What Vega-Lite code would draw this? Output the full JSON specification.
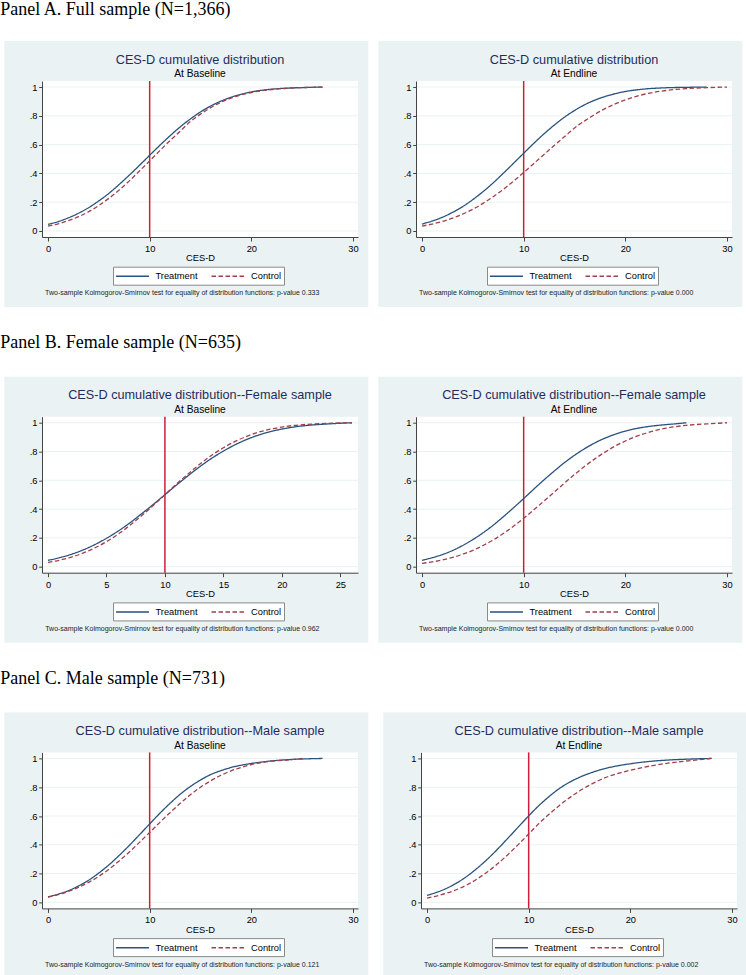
{
  "$schema": "https://vega.github.io/schema/vega-lite/v6.json",
  "padding": 0,
  "background": "white",
  "datasets": {
    "grid": [{"v": 0}, {"v": 0.2}, {"v": 0.4}, {"v": 0.6}, {"v": 0.8}, {"v": 1}],
    "cdf": [
      {"p":"A1","g":"Treatment","x":0,"y":0.046},{"p":"A1","g":"Treatment","x":1,"y":0.065},{"p":"A1","g":"Treatment","x":2,"y":0.091},{"p":"A1","g":"Treatment","x":3,"y":0.123},{"p":"A1","g":"Treatment","x":4,"y":0.162},{"p":"A1","g":"Treatment","x":5,"y":0.209},{"p":"A1","g":"Treatment","x":6,"y":0.262},{"p":"A1","g":"Treatment","x":7,"y":0.323},{"p":"A1","g":"Treatment","x":8,"y":0.388},{"p":"A1","g":"Treatment","x":9,"y":0.456},{"p":"A1","g":"Treatment","x":10,"y":0.526},{"p":"A1","g":"Treatment","x":11,"y":0.595},{"p":"A1","g":"Treatment","x":12,"y":0.661},{"p":"A1","g":"Treatment","x":13,"y":0.723},{"p":"A1","g":"Treatment","x":14,"y":0.778},{"p":"A1","g":"Treatment","x":15,"y":0.827},{"p":"A1","g":"Treatment","x":16,"y":0.868},{"p":"A1","g":"Treatment","x":17,"y":0.902},{"p":"A1","g":"Treatment","x":18,"y":0.929},{"p":"A1","g":"Treatment","x":19,"y":0.950},{"p":"A1","g":"Treatment","x":20,"y":0.966},{"p":"A1","g":"Treatment","x":22,"y":0.985},{"p":"A1","g":"Treatment","x":24,"y":0.994},{"p":"A1","g":"Treatment","x":26,"y":0.998},{"p":"A1","g":"Treatment","x":27,"y":1.0},
      {"p":"A1","g":"Control","x":0,"y":0.034},{"p":"A1","g":"Control","x":1,"y":0.050},{"p":"A1","g":"Control","x":2,"y":0.072},{"p":"A1","g":"Control","x":3,"y":0.099},{"p":"A1","g":"Control","x":4,"y":0.134},{"p":"A1","g":"Control","x":5,"y":0.177},{"p":"A1","g":"Control","x":6,"y":0.227},{"p":"A1","g":"Control","x":7,"y":0.285},{"p":"A1","g":"Control","x":8,"y":0.348},{"p":"A1","g":"Control","x":9,"y":0.417},{"p":"A1","g":"Control","x":10,"y":0.487},{"p":"A1","g":"Control","x":11,"y":0.558},{"p":"A1","g":"Control","x":12,"y":0.628},{"p":"A1","g":"Control","x":13,"y":0.693},{"p":"A1","g":"Control","x":14,"y":0.760},{"p":"A1","g":"Control","x":15,"y":0.812},{"p":"A1","g":"Control","x":16,"y":0.857},{"p":"A1","g":"Control","x":17,"y":0.894},{"p":"A1","g":"Control","x":18,"y":0.923},{"p":"A1","g":"Control","x":19,"y":0.946},{"p":"A1","g":"Control","x":20,"y":0.962},{"p":"A1","g":"Control","x":22,"y":0.983},{"p":"A1","g":"Control","x":24,"y":0.993},{"p":"A1","g":"Control","x":26,"y":0.998},{"p":"A1","g":"Control","x":27,"y":1.0},
      {"p":"A2","g":"Treatment","x":0,"y":0.048},{"p":"A2","g":"Treatment","x":1,"y":0.069},{"p":"A2","g":"Treatment","x":2,"y":0.095},{"p":"A2","g":"Treatment","x":3,"y":0.129},{"p":"A2","g":"Treatment","x":4,"y":0.169},{"p":"A2","g":"Treatment","x":5,"y":0.218},{"p":"A2","g":"Treatment","x":6,"y":0.273},{"p":"A2","g":"Treatment","x":7,"y":0.334},{"p":"A2","g":"Treatment","x":8,"y":0.401},{"p":"A2","g":"Treatment","x":9,"y":0.470},{"p":"A2","g":"Treatment","x":10,"y":0.540},{"p":"A2","g":"Treatment","x":11,"y":0.609},{"p":"A2","g":"Treatment","x":12,"y":0.675},{"p":"A2","g":"Treatment","x":13,"y":0.735},{"p":"A2","g":"Treatment","x":14,"y":0.790},{"p":"A2","g":"Treatment","x":15,"y":0.837},{"p":"A2","g":"Treatment","x":16,"y":0.877},{"p":"A2","g":"Treatment","x":17,"y":0.909},{"p":"A2","g":"Treatment","x":18,"y":0.934},{"p":"A2","g":"Treatment","x":19,"y":0.954},{"p":"A2","g":"Treatment","x":20,"y":0.969},{"p":"A2","g":"Treatment","x":22,"y":0.987},{"p":"A2","g":"Treatment","x":24,"y":0.995},{"p":"A2","g":"Treatment","x":26,"y":0.998},{"p":"A2","g":"Treatment","x":28,"y":1.0},
      {"p":"A2","g":"Control","x":0,"y":0.034},{"p":"A2","g":"Control","x":1,"y":0.048},{"p":"A2","g":"Control","x":2,"y":0.066},{"p":"A2","g":"Control","x":3,"y":0.089},{"p":"A2","g":"Control","x":4,"y":0.117},{"p":"A2","g":"Control","x":5,"y":0.151},{"p":"A2","g":"Control","x":6,"y":0.192},{"p":"A2","g":"Control","x":7,"y":0.238},{"p":"A2","g":"Control","x":8,"y":0.289},{"p":"A2","g":"Control","x":9,"y":0.346},{"p":"A2","g":"Control","x":10,"y":0.406},{"p":"A2","g":"Control","x":11,"y":0.469},{"p":"A2","g":"Control","x":12,"y":0.531},{"p":"A2","g":"Control","x":13,"y":0.594},{"p":"A2","g":"Control","x":14,"y":0.654},{"p":"A2","g":"Control","x":15,"y":0.715},{"p":"A2","g":"Control","x":16,"y":0.765},{"p":"A2","g":"Control","x":17,"y":0.810},{"p":"A2","g":"Control","x":18,"y":0.850},{"p":"A2","g":"Control","x":19,"y":0.883},{"p":"A2","g":"Control","x":20,"y":0.911},{"p":"A2","g":"Control","x":21,"y":0.934},{"p":"A2","g":"Control","x":22,"y":0.952},{"p":"A2","g":"Control","x":24,"y":0.976},{"p":"A2","g":"Control","x":26,"y":0.989},{"p":"A2","g":"Control","x":28,"y":0.996},{"p":"A2","g":"Control","x":30,"y":1.0},
      {"p":"B1","g":"Treatment","x":0,"y":0.044},{"p":"B1","g":"Treatment","x":1,"y":0.062},{"p":"B1","g":"Treatment","x":2,"y":0.086},{"p":"B1","g":"Treatment","x":3,"y":0.116},{"p":"B1","g":"Treatment","x":4,"y":0.153},{"p":"B1","g":"Treatment","x":5,"y":0.197},{"p":"B1","g":"Treatment","x":6,"y":0.247},{"p":"B1","g":"Treatment","x":7,"y":0.304},{"p":"B1","g":"Treatment","x":8,"y":0.367},{"p":"B1","g":"Treatment","x":9,"y":0.432},{"p":"B1","g":"Treatment","x":10,"y":0.500},{"p":"B1","g":"Treatment","x":11,"y":0.568},{"p":"B1","g":"Treatment","x":12,"y":0.633},{"p":"B1","g":"Treatment","x":13,"y":0.696},{"p":"B1","g":"Treatment","x":14,"y":0.753},{"p":"B1","g":"Treatment","x":15,"y":0.803},{"p":"B1","g":"Treatment","x":16,"y":0.847},{"p":"B1","g":"Treatment","x":17,"y":0.884},{"p":"B1","g":"Treatment","x":18,"y":0.914},{"p":"B1","g":"Treatment","x":19,"y":0.938},{"p":"B1","g":"Treatment","x":20,"y":0.956},{"p":"B1","g":"Treatment","x":21,"y":0.970},{"p":"B1","g":"Treatment","x":22,"y":0.980},{"p":"B1","g":"Treatment","x":24,"y":0.992},{"p":"B1","g":"Treatment","x":26,"y":1.0},
      {"p":"B1","g":"Control","x":0,"y":0.030},{"p":"B1","g":"Control","x":1,"y":0.045},{"p":"B1","g":"Control","x":2,"y":0.066},{"p":"B1","g":"Control","x":3,"y":0.094},{"p":"B1","g":"Control","x":4,"y":0.130},{"p":"B1","g":"Control","x":5,"y":0.174},{"p":"B1","g":"Control","x":6,"y":0.226},{"p":"B1","g":"Control","x":7,"y":0.287},{"p":"B1","g":"Control","x":8,"y":0.354},{"p":"B1","g":"Control","x":9,"y":0.425},{"p":"B1","g":"Control","x":10,"y":0.500},{"p":"B1","g":"Control","x":11,"y":0.575},{"p":"B1","g":"Control","x":12,"y":0.646},{"p":"B1","g":"Control","x":13,"y":0.713},{"p":"B1","g":"Control","x":14,"y":0.774},{"p":"B1","g":"Control","x":15,"y":0.826},{"p":"B1","g":"Control","x":16,"y":0.870},{"p":"B1","g":"Control","x":17,"y":0.906},{"p":"B1","g":"Control","x":18,"y":0.934},{"p":"B1","g":"Control","x":19,"y":0.955},{"p":"B1","g":"Control","x":20,"y":0.970},{"p":"B1","g":"Control","x":21,"y":0.981},{"p":"B1","g":"Control","x":22,"y":0.988},{"p":"B1","g":"Control","x":24,"y":0.996},{"p":"B1","g":"Control","x":26,"y":1.0},
      {"p":"B2","g":"Treatment","x":0,"y":0.044},{"p":"B2","g":"Treatment","x":1,"y":0.062},{"p":"B2","g":"Treatment","x":2,"y":0.084},{"p":"B2","g":"Treatment","x":3,"y":0.112},{"p":"B2","g":"Treatment","x":4,"y":0.147},{"p":"B2","g":"Treatment","x":5,"y":0.188},{"p":"B2","g":"Treatment","x":6,"y":0.235},{"p":"B2","g":"Treatment","x":7,"y":0.288},{"p":"B2","g":"Treatment","x":8,"y":0.347},{"p":"B2","g":"Treatment","x":9,"y":0.409},{"p":"B2","g":"Treatment","x":10,"y":0.473},{"p":"B2","g":"Treatment","x":11,"y":0.539},{"p":"B2","g":"Treatment","x":12,"y":0.603},{"p":"B2","g":"Treatment","x":13,"y":0.664},{"p":"B2","g":"Treatment","x":14,"y":0.722},{"p":"B2","g":"Treatment","x":15,"y":0.774},{"p":"B2","g":"Treatment","x":16,"y":0.820},{"p":"B2","g":"Treatment","x":17,"y":0.860},{"p":"B2","g":"Treatment","x":18,"y":0.893},{"p":"B2","g":"Treatment","x":19,"y":0.920},{"p":"B2","g":"Treatment","x":20,"y":0.942},{"p":"B2","g":"Treatment","x":21,"y":0.959},{"p":"B2","g":"Treatment","x":22,"y":0.971},{"p":"B2","g":"Treatment","x":24,"y":0.987},{"p":"B2","g":"Treatment","x":25,"y":0.993},{"p":"B2","g":"Treatment","x":26,"y":1.0},
      {"p":"B2","g":"Control","x":0,"y":0.023},{"p":"B2","g":"Control","x":1,"y":0.033},{"p":"B2","g":"Control","x":2,"y":0.047},{"p":"B2","g":"Control","x":3,"y":0.064},{"p":"B2","g":"Control","x":4,"y":0.086},{"p":"B2","g":"Control","x":5,"y":0.113},{"p":"B2","g":"Control","x":6,"y":0.147},{"p":"B2","g":"Control","x":7,"y":0.185},{"p":"B2","g":"Control","x":8,"y":0.230},{"p":"B2","g":"Control","x":9,"y":0.281},{"p":"B2","g":"Control","x":10,"y":0.336},{"p":"B2","g":"Control","x":11,"y":0.395},{"p":"B2","g":"Control","x":12,"y":0.456},{"p":"B2","g":"Control","x":13,"y":0.518},{"p":"B2","g":"Control","x":14,"y":0.580},{"p":"B2","g":"Control","x":15,"y":0.640},{"p":"B2","g":"Control","x":16,"y":0.697},{"p":"B2","g":"Control","x":17,"y":0.749},{"p":"B2","g":"Control","x":18,"y":0.796},{"p":"B2","g":"Control","x":19,"y":0.838},{"p":"B2","g":"Control","x":20,"y":0.873},{"p":"B2","g":"Control","x":21,"y":0.903},{"p":"B2","g":"Control","x":22,"y":0.927},{"p":"B2","g":"Control","x":23,"y":0.947},{"p":"B2","g":"Control","x":24,"y":0.962},{"p":"B2","g":"Control","x":26,"y":0.982},{"p":"B2","g":"Control","x":28,"y":0.992},{"p":"B2","g":"Control","x":30,"y":1.0},
      {"p":"C1","g":"Treatment","x":0,"y":0.038},{"p":"C1","g":"Treatment","x":1,"y":0.057},{"p":"C1","g":"Treatment","x":2,"y":0.081},{"p":"C1","g":"Treatment","x":3,"y":0.114},{"p":"C1","g":"Treatment","x":4,"y":0.154},{"p":"C1","g":"Treatment","x":5,"y":0.204},{"p":"C1","g":"Treatment","x":6,"y":0.261},{"p":"C1","g":"Treatment","x":7,"y":0.326},{"p":"C1","g":"Treatment","x":8,"y":0.396},{"p":"C1","g":"Treatment","x":9,"y":0.470},{"p":"C1","g":"Treatment","x":10,"y":0.545},{"p":"C1","g":"Treatment","x":11,"y":0.619},{"p":"C1","g":"Treatment","x":12,"y":0.688},{"p":"C1","g":"Treatment","x":13,"y":0.751},{"p":"C1","g":"Treatment","x":14,"y":0.805},{"p":"C1","g":"Treatment","x":15,"y":0.850},{"p":"C1","g":"Treatment","x":16,"y":0.888},{"p":"C1","g":"Treatment","x":17,"y":0.915},{"p":"C1","g":"Treatment","x":18,"y":0.937},{"p":"C1","g":"Treatment","x":19,"y":0.953},{"p":"C1","g":"Treatment","x":20,"y":0.965},{"p":"C1","g":"Treatment","x":22,"y":0.983},{"p":"C1","g":"Treatment","x":24,"y":0.993},{"p":"C1","g":"Treatment","x":27,"y":1.0},
      {"p":"C1","g":"Control","x":0,"y":0.037},{"p":"C1","g":"Control","x":1,"y":0.054},{"p":"C1","g":"Control","x":2,"y":0.076},{"p":"C1","g":"Control","x":3,"y":0.104},{"p":"C1","g":"Control","x":4,"y":0.139},{"p":"C1","g":"Control","x":5,"y":0.181},{"p":"C1","g":"Control","x":6,"y":0.231},{"p":"C1","g":"Control","x":7,"y":0.288},{"p":"C1","g":"Control","x":8,"y":0.350},{"p":"C1","g":"Control","x":9,"y":0.417},{"p":"C1","g":"Control","x":10,"y":0.486},{"p":"C1","g":"Control","x":11,"y":0.556},{"p":"C1","g":"Control","x":12,"y":0.623},{"p":"C1","g":"Control","x":13,"y":0.688},{"p":"C1","g":"Control","x":14,"y":0.747},{"p":"C1","g":"Control","x":15,"y":0.800},{"p":"C1","g":"Control","x":16,"y":0.845},{"p":"C1","g":"Control","x":17,"y":0.883},{"p":"C1","g":"Control","x":18,"y":0.914},{"p":"C1","g":"Control","x":19,"y":0.938},{"p":"C1","g":"Control","x":20,"y":0.957},{"p":"C1","g":"Control","x":22,"y":0.981},{"p":"C1","g":"Control","x":24,"y":0.992},{"p":"C1","g":"Control","x":25,"y":1.0},
      {"p":"C2","g":"Treatment","x":0,"y":0.048},{"p":"C2","g":"Treatment","x":1,"y":0.071},{"p":"C2","g":"Treatment","x":2,"y":0.100},{"p":"C2","g":"Treatment","x":3,"y":0.138},{"p":"C2","g":"Treatment","x":4,"y":0.185},{"p":"C2","g":"Treatment","x":5,"y":0.241},{"p":"C2","g":"Treatment","x":6,"y":0.304},{"p":"C2","g":"Treatment","x":7,"y":0.374},{"p":"C2","g":"Treatment","x":8,"y":0.449},{"p":"C2","g":"Treatment","x":9,"y":0.525},{"p":"C2","g":"Treatment","x":10,"y":0.601},{"p":"C2","g":"Treatment","x":11,"y":0.672},{"p":"C2","g":"Treatment","x":12,"y":0.735},{"p":"C2","g":"Treatment","x":13,"y":0.790},{"p":"C2","g":"Treatment","x":14,"y":0.834},{"p":"C2","g":"Treatment","x":15,"y":0.869},{"p":"C2","g":"Treatment","x":16,"y":0.897},{"p":"C2","g":"Treatment","x":17,"y":0.920},{"p":"C2","g":"Treatment","x":18,"y":0.938},{"p":"C2","g":"Treatment","x":19,"y":0.952},{"p":"C2","g":"Treatment","x":20,"y":0.963},{"p":"C2","g":"Treatment","x":22,"y":0.980},{"p":"C2","g":"Treatment","x":24,"y":0.990},{"p":"C2","g":"Treatment","x":26,"y":0.996},{"p":"C2","g":"Treatment","x":28,"y":1.0},
      {"p":"C2","g":"Control","x":0,"y":0.030},{"p":"C2","g":"Control","x":1,"y":0.045},{"p":"C2","g":"Control","x":2,"y":0.065},{"p":"C2","g":"Control","x":3,"y":0.091},{"p":"C2","g":"Control","x":4,"y":0.124},{"p":"C2","g":"Control","x":5,"y":0.166},{"p":"C2","g":"Control","x":6,"y":0.215},{"p":"C2","g":"Control","x":7,"y":0.271},{"p":"C2","g":"Control","x":8,"y":0.335},{"p":"C2","g":"Control","x":9,"y":0.403},{"p":"C2","g":"Control","x":10,"y":0.475},{"p":"C2","g":"Control","x":11,"y":0.547},{"p":"C2","g":"Control","x":12,"y":0.612},{"p":"C2","g":"Control","x":13,"y":0.672},{"p":"C2","g":"Control","x":14,"y":0.726},{"p":"C2","g":"Control","x":15,"y":0.774},{"p":"C2","g":"Control","x":16,"y":0.815},{"p":"C2","g":"Control","x":17,"y":0.850},{"p":"C2","g":"Control","x":18,"y":0.879},{"p":"C2","g":"Control","x":19,"y":0.900},{"p":"C2","g":"Control","x":20,"y":0.918},{"p":"C2","g":"Control","x":22,"y":0.948},{"p":"C2","g":"Control","x":24,"y":0.970},{"p":"C2","g":"Control","x":26,"y":0.986},{"p":"C2","g":"Control","x":28,"y":1.0}
    ]
  },
  "vconcat": [
    {
      "title": {"text": "Panel A. Full sample (N=1,366)", "font": "Liberation Serif", "fontSize": 18, "color": "black", "fontWeight": "normal", "anchor": "start", "frame": "bounds", "offset": 22, "dx": -4},
      "spacing": 9,
      "resolve": {"scale": {"color": "independent", "strokeDash": "independent"}, "legend": {"color": "independent", "strokeDash": "independent"}},
      "hconcat": [
        {
          "width": 316, "height": 156,
          "title": {"text": "CES-D cumulative distribution", "subtitle": "At Baseline"},
          "layer": [
            {"data": {"values": [{}]}, "mark": {"type": "rect", "color": "#EAF2F3", "clip": false},
             "encoding": {"x": {"datum": -4.3, "type": "quantitative", "scale": {"domain": [-0.59, 30.49], "nice": false, "zero": false}, "axis": {"values": [0, 10, 20, 30], "title": "CES-D", "zindex": 1}}, "x2": {"datum": 31.5},
                          "y": {"datum": 1.32, "type": "quantitative", "scale": {"domain": [-0.042, 1.042], "nice": false, "zero": false}, "axis": {"values": [0, 0.2, 0.4, 0.6, 0.8, 1], "title": null, "zindex": 1, "labelExpr": "datum.value == 0 ? '0' : datum.value == 1 ? '1' : replace(format(datum.value, '.1f'), '0.', '.')"}}, "y2": {"datum": -0.528}}},
            {"data": {"values": [{}]}, "mark": {"type": "rect", "color": "white"},
             "encoding": {"x": {"datum": -0.59, "type": "quantitative", "scale": {"domain": [-0.59, 30.49], "nice": false, "zero": false}, "axis": {"values": [0, 10, 20, 30], "title": "CES-D", "zindex": 1}}, "x2": {"datum": 30.49},
                          "y": {"datum": -0.042, "type": "quantitative", "scale": {"domain": [-0.042, 1.042], "nice": false, "zero": false}, "axis": {"values": [0, 0.2, 0.4, 0.6, 0.8, 1], "title": null, "zindex": 1, "labelExpr": "datum.value == 0 ? '0' : datum.value == 1 ? '1' : replace(format(datum.value, '.1f'), '0.', '.')"}}, "y2": {"datum": 1.042}}},
            {"data": {"name": "grid"}, "mark": {"type": "rule", "color": "#EAF2F3", "strokeWidth": 1},
             "encoding": {"y": {"field": "v", "type": "quantitative", "scale": {"domain": [-0.042, 1.042], "nice": false, "zero": false}, "axis": {"values": [0, 0.2, 0.4, 0.6, 0.8, 1], "title": null, "zindex": 1, "labelExpr": "datum.value == 0 ? '0' : datum.value == 1 ? '1' : replace(format(datum.value, '.1f'), '0.', '.')"}}}},
            {"data": {"values": [{}]}, "mark": {"type": "rule", "color": "#CC1F3A", "strokeWidth": 1.5},
             "encoding": {"x": {"datum": 10, "type": "quantitative", "scale": {"domain": [-0.59, 30.49], "nice": false, "zero": false}, "axis": {"values": [0, 10, 20, 30], "title": "CES-D", "zindex": 1}}}},
            {"data": {"name": "cdf"}, "transform": [{"filter": "datum.p == 'A1'"}],
             "mark": {"type": "line", "interpolate": "monotone", "strokeWidth": 1.3},
             "encoding": {
               "x": {"field": "x", "type": "quantitative", "scale": {"domain": [-0.59, 30.49], "nice": false, "zero": false}, "axis": {"values": [0, 10, 20, 30], "title": "CES-D", "zindex": 1}},
               "y": {"field": "y", "type": "quantitative", "scale": {"domain": [-0.042, 1.042], "nice": false, "zero": false}, "axis": {"values": [0, 0.2, 0.4, 0.6, 0.8, 1], "title": null, "zindex": 1, "labelExpr": "datum.value == 0 ? '0' : datum.value == 1 ? '1' : replace(format(datum.value, '.1f'), '0.', '.')"}},
               "color": {"field": "g", "type": "nominal", "scale": {"domain": ["Treatment", "Control"], "range": ["#29527D", "#A0404A"]}, "legend": {"title": null, "orient": "none", "legendX": 71, "legendY": 185.7, "direction": "horizontal"}},
               "strokeDash": {"field": "g", "type": "nominal", "scale": {"domain": ["Treatment", "Control"], "range": [[1, 0], [4.5, 2.5]]}, "legend": {"title": null, "orient": "none", "legendX": 71, "legendY": 185.7, "direction": "horizontal"}}
             }},
            {"data": {"values": [{"note": "Two-sample Kolmogorov-Smirnov test for equality of distribution functions: p-value 0.333"}]},
             "mark": {"type": "text", "fontSize": 7, "font": "Liberation Sans", "color": "#222", "align": "center", "baseline": "middle", "clip": false},
             "encoding": {"x": {"datum": 13.2, "type": "quantitative", "scale": {"domain": [-0.59, 30.49], "nice": false, "zero": false}, "axis": {"values": [0, 10, 20, 30], "title": "CES-D", "zindex": 1}},
                          "y": {"datum": -0.432, "type": "quantitative", "scale": {"domain": [-0.042, 1.042], "nice": false, "zero": false}, "axis": {"values": [0, 0.2, 0.4, 0.6, 0.8, 1], "title": null, "zindex": 1, "labelExpr": "datum.value == 0 ? '0' : datum.value == 1 ? '1' : replace(format(datum.value, '.1f'), '0.', '.')"}},
                          "text": {"field": "note"}}}
          ]
        },
        {
          "width": 316, "height": 156,
          "title": {"text": "CES-D cumulative distribution", "subtitle": "At Endline"},
          "layer": [
            {"data": {"values": [{}]}, "mark": {"type": "rect", "color": "#EAF2F3", "clip": false},
             "encoding": {"x": {"datum": -4.3, "type": "quantitative", "scale": {"domain": [-0.59, 30.49], "nice": false, "zero": false}, "axis": {"values": [0, 10, 20, 30], "title": "CES-D", "zindex": 1}}, "x2": {"datum": 31.5},
                          "y": {"datum": 1.32, "type": "quantitative", "scale": {"domain": [-0.042, 1.042], "nice": false, "zero": false}, "axis": {"values": [0, 0.2, 0.4, 0.6, 0.8, 1], "title": null, "zindex": 1, "labelExpr": "datum.value == 0 ? '0' : datum.value == 1 ? '1' : replace(format(datum.value, '.1f'), '0.', '.')"}}, "y2": {"datum": -0.528}}},
            {"data": {"values": [{}]}, "mark": {"type": "rect", "color": "white"},
             "encoding": {"x": {"datum": -0.59, "type": "quantitative", "scale": {"domain": [-0.59, 30.49], "nice": false, "zero": false}, "axis": {"values": [0, 10, 20, 30], "title": "CES-D", "zindex": 1}}, "x2": {"datum": 30.49},
                          "y": {"datum": -0.042, "type": "quantitative", "scale": {"domain": [-0.042, 1.042], "nice": false, "zero": false}, "axis": {"values": [0, 0.2, 0.4, 0.6, 0.8, 1], "title": null, "zindex": 1, "labelExpr": "datum.value == 0 ? '0' : datum.value == 1 ? '1' : replace(format(datum.value, '.1f'), '0.', '.')"}}, "y2": {"datum": 1.042}}},
            {"data": {"name": "grid"}, "mark": {"type": "rule", "color": "#EAF2F3", "strokeWidth": 1},
             "encoding": {"y": {"field": "v", "type": "quantitative", "scale": {"domain": [-0.042, 1.042], "nice": false, "zero": false}, "axis": {"values": [0, 0.2, 0.4, 0.6, 0.8, 1], "title": null, "zindex": 1, "labelExpr": "datum.value == 0 ? '0' : datum.value == 1 ? '1' : replace(format(datum.value, '.1f'), '0.', '.')"}}}},
            {"data": {"values": [{}]}, "mark": {"type": "rule", "color": "#CC1F3A", "strokeWidth": 1.5},
             "encoding": {"x": {"datum": 10, "type": "quantitative", "scale": {"domain": [-0.59, 30.49], "nice": false, "zero": false}, "axis": {"values": [0, 10, 20, 30], "title": "CES-D", "zindex": 1}}}},
            {"data": {"name": "cdf"}, "transform": [{"filter": "datum.p == 'A2'"}],
             "mark": {"type": "line", "interpolate": "monotone", "strokeWidth": 1.3},
             "encoding": {
               "x": {"field": "x", "type": "quantitative", "scale": {"domain": [-0.59, 30.49], "nice": false, "zero": false}, "axis": {"values": [0, 10, 20, 30], "title": "CES-D", "zindex": 1}},
               "y": {"field": "y", "type": "quantitative", "scale": {"domain": [-0.042, 1.042], "nice": false, "zero": false}, "axis": {"values": [0, 0.2, 0.4, 0.6, 0.8, 1], "title": null, "zindex": 1, "labelExpr": "datum.value == 0 ? '0' : datum.value == 1 ? '1' : replace(format(datum.value, '.1f'), '0.', '.')"}},
               "color": {"field": "g", "type": "nominal", "scale": {"domain": ["Treatment", "Control"], "range": ["#29527D", "#A0404A"]}, "legend": {"title": null, "orient": "none", "legendX": 71, "legendY": 185.7, "direction": "horizontal"}},
               "strokeDash": {"field": "g", "type": "nominal", "scale": {"domain": ["Treatment", "Control"], "range": [[1, 0], [4.5, 2.5]]}, "legend": {"title": null, "orient": "none", "legendX": 71, "legendY": 185.7, "direction": "horizontal"}}
             }},
            {"data": {"values": [{"note": "Two-sample Kolmogorov-Smirnov test for equality of distribution functions: p-value 0.000"}]},
             "mark": {"type": "text", "fontSize": 7, "font": "Liberation Sans", "color": "#222", "align": "center", "baseline": "middle", "clip": false},
             "encoding": {"x": {"datum": 13.2, "type": "quantitative", "scale": {"domain": [-0.59, 30.49], "nice": false, "zero": false}, "axis": {"values": [0, 10, 20, 30], "title": "CES-D", "zindex": 1}},
                          "y": {"datum": -0.432, "type": "quantitative", "scale": {"domain": [-0.042, 1.042], "nice": false, "zero": false}, "axis": {"values": [0, 0.2, 0.4, 0.6, 0.8, 1], "title": null, "zindex": 1, "labelExpr": "datum.value == 0 ? '0' : datum.value == 1 ? '1' : replace(format(datum.value, '.1f'), '0.', '.')"}},
                          "text": {"field": "note"}}}
          ]
        }
      ]
    },
    {
      "title": {"text": "Panel B. Female sample (N=635)", "font": "Liberation Serif", "fontSize": 18, "color": "black", "fontWeight": "normal", "anchor": "start", "frame": "bounds", "offset": 24.3, "dx": -4},
      "spacing": 9,
      "resolve": {"scale": {"color": "independent", "strokeDash": "independent"}, "legend": {"color": "independent", "strokeDash": "independent"}},
      "hconcat": [
        {
          "width": 316, "height": 156,
          "title": {"text": "CES-D cumulative distribution--Female sample", "subtitle": "At Baseline"},
          "layer": [
            {"data": {"values": [{}]}, "mark": {"type": "rect", "color": "#EAF2F3", "clip": false},
             "encoding": {"x": {"datum": -3.735, "type": "quantitative", "scale": {"domain": [-0.51, 26.51], "nice": false, "zero": false}, "axis": {"values": [0, 5, 10, 15, 20, 25], "title": "CES-D", "zindex": 1}}, "x2": {"datum": 27.39},
                          "y": {"datum": 1.32, "type": "quantitative", "scale": {"domain": [-0.042, 1.042], "nice": false, "zero": false}, "axis": {"values": [0, 0.2, 0.4, 0.6, 0.8, 1], "title": null, "zindex": 1, "labelExpr": "datum.value == 0 ? '0' : datum.value == 1 ? '1' : replace(format(datum.value, '.1f'), '0.', '.')"}}, "y2": {"datum": -0.528}}},
            {"data": {"values": [{}]}, "mark": {"type": "rect", "color": "white"},
             "encoding": {"x": {"datum": -0.51, "type": "quantitative", "scale": {"domain": [-0.51, 26.51], "nice": false, "zero": false}, "axis": {"values": [0, 5, 10, 15, 20, 25], "title": "CES-D", "zindex": 1}}, "x2": {"datum": 26.51},
                          "y": {"datum": -0.042, "type": "quantitative", "scale": {"domain": [-0.042, 1.042], "nice": false, "zero": false}, "axis": {"values": [0, 0.2, 0.4, 0.6, 0.8, 1], "title": null, "zindex": 1, "labelExpr": "datum.value == 0 ? '0' : datum.value == 1 ? '1' : replace(format(datum.value, '.1f'), '0.', '.')"}}, "y2": {"datum": 1.042}}},
            {"data": {"name": "grid"}, "mark": {"type": "rule", "color": "#EAF2F3", "strokeWidth": 1},
             "encoding": {"y": {"field": "v", "type": "quantitative", "scale": {"domain": [-0.042, 1.042], "nice": false, "zero": false}, "axis": {"values": [0, 0.2, 0.4, 0.6, 0.8, 1], "title": null, "zindex": 1, "labelExpr": "datum.value == 0 ? '0' : datum.value == 1 ? '1' : replace(format(datum.value, '.1f'), '0.', '.')"}}}},
            {"data": {"values": [{}]}, "mark": {"type": "rule", "color": "#CC1F3A", "strokeWidth": 1.5},
             "encoding": {"x": {"datum": 10, "type": "quantitative", "scale": {"domain": [-0.51, 26.51], "nice": false, "zero": false}, "axis": {"values": [0, 5, 10, 15, 20, 25], "title": "CES-D", "zindex": 1}}}},
            {"data": {"name": "cdf"}, "transform": [{"filter": "datum.p == 'B1'"}],
             "mark": {"type": "line", "interpolate": "monotone", "strokeWidth": 1.3},
             "encoding": {
               "x": {"field": "x", "type": "quantitative", "scale": {"domain": [-0.51, 26.51], "nice": false, "zero": false}, "axis": {"values": [0, 5, 10, 15, 20, 25], "title": "CES-D", "zindex": 1}},
               "y": {"field": "y", "type": "quantitative", "scale": {"domain": [-0.042, 1.042], "nice": false, "zero": false}, "axis": {"values": [0, 0.2, 0.4, 0.6, 0.8, 1], "title": null, "zindex": 1, "labelExpr": "datum.value == 0 ? '0' : datum.value == 1 ? '1' : replace(format(datum.value, '.1f'), '0.', '.')"}},
               "color": {"field": "g", "type": "nominal", "scale": {"domain": ["Treatment", "Control"], "range": ["#29527D", "#A0404A"]}, "legend": {"title": null, "orient": "none", "legendX": 71, "legendY": 185.7, "direction": "horizontal"}},
               "strokeDash": {"field": "g", "type": "nominal", "scale": {"domain": ["Treatment", "Control"], "range": [[1, 0], [4.5, 2.5]]}, "legend": {"title": null, "orient": "none", "legendX": 71, "legendY": 185.7, "direction": "horizontal"}}
             }},
            {"data": {"values": [{"note": "Two-sample Kolmogorov-Smirnov test for equality of distribution functions: p-value 0.962"}]},
             "mark": {"type": "text", "fontSize": 7, "font": "Liberation Sans", "color": "#222", "align": "center", "baseline": "middle", "clip": false},
             "encoding": {"x": {"datum": 11.49, "type": "quantitative", "scale": {"domain": [-0.51, 26.51], "nice": false, "zero": false}, "axis": {"values": [0, 5, 10, 15, 20, 25], "title": "CES-D", "zindex": 1}},
                          "y": {"datum": -0.432, "type": "quantitative", "scale": {"domain": [-0.042, 1.042], "nice": false, "zero": false}, "axis": {"values": [0, 0.2, 0.4, 0.6, 0.8, 1], "title": null, "zindex": 1, "labelExpr": "datum.value == 0 ? '0' : datum.value == 1 ? '1' : replace(format(datum.value, '.1f'), '0.', '.')"}},
                          "text": {"field": "note"}}}
          ]
        },
        {
          "width": 316, "height": 156,
          "title": {"text": "CES-D cumulative distribution--Female sample", "subtitle": "At Endline"},
          "layer": [
            {"data": {"values": [{}]}, "mark": {"type": "rect", "color": "#EAF2F3", "clip": false},
             "encoding": {"x": {"datum": -4.3, "type": "quantitative", "scale": {"domain": [-0.59, 30.49], "nice": false, "zero": false}, "axis": {"values": [0, 10, 20, 30], "title": "CES-D", "zindex": 1}}, "x2": {"datum": 31.5},
                          "y": {"datum": 1.32, "type": "quantitative", "scale": {"domain": [-0.042, 1.042], "nice": false, "zero": false}, "axis": {"values": [0, 0.2, 0.4, 0.6, 0.8, 1], "title": null, "zindex": 1, "labelExpr": "datum.value == 0 ? '0' : datum.value == 1 ? '1' : replace(format(datum.value, '.1f'), '0.', '.')"}}, "y2": {"datum": -0.528}}},
            {"data": {"values": [{}]}, "mark": {"type": "rect", "color": "white"},
             "encoding": {"x": {"datum": -0.59, "type": "quantitative", "scale": {"domain": [-0.59, 30.49], "nice": false, "zero": false}, "axis": {"values": [0, 10, 20, 30], "title": "CES-D", "zindex": 1}}, "x2": {"datum": 30.49},
                          "y": {"datum": -0.042, "type": "quantitative", "scale": {"domain": [-0.042, 1.042], "nice": false, "zero": false}, "axis": {"values": [0, 0.2, 0.4, 0.6, 0.8, 1], "title": null, "zindex": 1, "labelExpr": "datum.value == 0 ? '0' : datum.value == 1 ? '1' : replace(format(datum.value, '.1f'), '0.', '.')"}}, "y2": {"datum": 1.042}}},
            {"data": {"name": "grid"}, "mark": {"type": "rule", "color": "#EAF2F3", "strokeWidth": 1},
             "encoding": {"y": {"field": "v", "type": "quantitative", "scale": {"domain": [-0.042, 1.042], "nice": false, "zero": false}, "axis": {"values": [0, 0.2, 0.4, 0.6, 0.8, 1], "title": null, "zindex": 1, "labelExpr": "datum.value == 0 ? '0' : datum.value == 1 ? '1' : replace(format(datum.value, '.1f'), '0.', '.')"}}}},
            {"data": {"values": [{}]}, "mark": {"type": "rule", "color": "#CC1F3A", "strokeWidth": 1.5},
             "encoding": {"x": {"datum": 10, "type": "quantitative", "scale": {"domain": [-0.59, 30.49], "nice": false, "zero": false}, "axis": {"values": [0, 10, 20, 30], "title": "CES-D", "zindex": 1}}}},
            {"data": {"name": "cdf"}, "transform": [{"filter": "datum.p == 'B2'"}],
             "mark": {"type": "line", "interpolate": "monotone", "strokeWidth": 1.3},
             "encoding": {
               "x": {"field": "x", "type": "quantitative", "scale": {"domain": [-0.59, 30.49], "nice": false, "zero": false}, "axis": {"values": [0, 10, 20, 30], "title": "CES-D", "zindex": 1}},
               "y": {"field": "y", "type": "quantitative", "scale": {"domain": [-0.042, 1.042], "nice": false, "zero": false}, "axis": {"values": [0, 0.2, 0.4, 0.6, 0.8, 1], "title": null, "zindex": 1, "labelExpr": "datum.value == 0 ? '0' : datum.value == 1 ? '1' : replace(format(datum.value, '.1f'), '0.', '.')"}},
               "color": {"field": "g", "type": "nominal", "scale": {"domain": ["Treatment", "Control"], "range": ["#29527D", "#A0404A"]}, "legend": {"title": null, "orient": "none", "legendX": 71, "legendY": 185.7, "direction": "horizontal"}},
               "strokeDash": {"field": "g", "type": "nominal", "scale": {"domain": ["Treatment", "Control"], "range": [[1, 0], [4.5, 2.5]]}, "legend": {"title": null, "orient": "none", "legendX": 71, "legendY": 185.7, "direction": "horizontal"}}
             }},
            {"data": {"values": [{"note": "Two-sample Kolmogorov-Smirnov test for equality of distribution functions: p-value 0.000"}]},
             "mark": {"type": "text", "fontSize": 7, "font": "Liberation Sans", "color": "#222", "align": "center", "baseline": "middle", "clip": false},
             "encoding": {"x": {"datum": 13.2, "type": "quantitative", "scale": {"domain": [-0.59, 30.49], "nice": false, "zero": false}, "axis": {"values": [0, 10, 20, 30], "title": "CES-D", "zindex": 1}},
                          "y": {"datum": -0.432, "type": "quantitative", "scale": {"domain": [-0.042, 1.042], "nice": false, "zero": false}, "axis": {"values": [0, 0.2, 0.4, 0.6, 0.8, 1], "title": null, "zindex": 1, "labelExpr": "datum.value == 0 ? '0' : datum.value == 1 ? '1' : replace(format(datum.value, '.1f'), '0.', '.')"}},
                          "text": {"field": "note"}}}
          ]
        }
      ]
    },
    {
      "title": {"text": "Panel C. Male sample (N=731)", "font": "Liberation Serif", "fontSize": 18, "color": "black", "fontWeight": "normal", "anchor": "start", "frame": "bounds", "offset": 24.3, "dx": -4},
      "spacing": 14,
      "resolve": {"scale": {"color": "independent", "strokeDash": "independent"}, "legend": {"color": "independent", "strokeDash": "independent"}},
      "hconcat": [
        {
          "width": 316, "height": 156,
          "title": {"text": "CES-D cumulative distribution--Male sample", "subtitle": "At Baseline"},
          "layer": [
            {"data": {"values": [{}]}, "mark": {"type": "rect", "color": "#EAF2F3", "clip": false},
             "encoding": {"x": {"datum": -4.3, "type": "quantitative", "scale": {"domain": [-0.59, 30.49], "nice": false, "zero": false}, "axis": {"values": [0, 10, 20, 30], "title": "CES-D", "zindex": 1}}, "x2": {"datum": 31.5},
                          "y": {"datum": 1.32, "type": "quantitative", "scale": {"domain": [-0.042, 1.042], "nice": false, "zero": false}, "axis": {"values": [0, 0.2, 0.4, 0.6, 0.8, 1], "title": null, "zindex": 1, "labelExpr": "datum.value == 0 ? '0' : datum.value == 1 ? '1' : replace(format(datum.value, '.1f'), '0.', '.')"}}, "y2": {"datum": -0.528}}},
            {"data": {"values": [{}]}, "mark": {"type": "rect", "color": "white"},
             "encoding": {"x": {"datum": -0.59, "type": "quantitative", "scale": {"domain": [-0.59, 30.49], "nice": false, "zero": false}, "axis": {"values": [0, 10, 20, 30], "title": "CES-D", "zindex": 1}}, "x2": {"datum": 30.49},
                          "y": {"datum": -0.042, "type": "quantitative", "scale": {"domain": [-0.042, 1.042], "nice": false, "zero": false}, "axis": {"values": [0, 0.2, 0.4, 0.6, 0.8, 1], "title": null, "zindex": 1, "labelExpr": "datum.value == 0 ? '0' : datum.value == 1 ? '1' : replace(format(datum.value, '.1f'), '0.', '.')"}}, "y2": {"datum": 1.042}}},
            {"data": {"name": "grid"}, "mark": {"type": "rule", "color": "#EAF2F3", "strokeWidth": 1},
             "encoding": {"y": {"field": "v", "type": "quantitative", "scale": {"domain": [-0.042, 1.042], "nice": false, "zero": false}, "axis": {"values": [0, 0.2, 0.4, 0.6, 0.8, 1], "title": null, "zindex": 1, "labelExpr": "datum.value == 0 ? '0' : datum.value == 1 ? '1' : replace(format(datum.value, '.1f'), '0.', '.')"}}}},
            {"data": {"values": [{}]}, "mark": {"type": "rule", "color": "#CC1F3A", "strokeWidth": 1.5},
             "encoding": {"x": {"datum": 10, "type": "quantitative", "scale": {"domain": [-0.59, 30.49], "nice": false, "zero": false}, "axis": {"values": [0, 10, 20, 30], "title": "CES-D", "zindex": 1}}}},
            {"data": {"name": "cdf"}, "transform": [{"filter": "datum.p == 'C1'"}],
             "mark": {"type": "line", "interpolate": "monotone", "strokeWidth": 1.3},
             "encoding": {
               "x": {"field": "x", "type": "quantitative", "scale": {"domain": [-0.59, 30.49], "nice": false, "zero": false}, "axis": {"values": [0, 10, 20, 30], "title": "CES-D", "zindex": 1}},
               "y": {"field": "y", "type": "quantitative", "scale": {"domain": [-0.042, 1.042], "nice": false, "zero": false}, "axis": {"values": [0, 0.2, 0.4, 0.6, 0.8, 1], "title": null, "zindex": 1, "labelExpr": "datum.value == 0 ? '0' : datum.value == 1 ? '1' : replace(format(datum.value, '.1f'), '0.', '.')"}},
               "color": {"field": "g", "type": "nominal", "scale": {"domain": ["Treatment", "Control"], "range": ["#29527D", "#A0404A"]}, "legend": {"title": null, "orient": "none", "legendX": 71, "legendY": 185.7, "direction": "horizontal"}},
               "strokeDash": {"field": "g", "type": "nominal", "scale": {"domain": ["Treatment", "Control"], "range": [[1, 0], [4.5, 2.5]]}, "legend": {"title": null, "orient": "none", "legendX": 71, "legendY": 185.7, "direction": "horizontal"}}
             }},
            {"data": {"values": [{"note": "Two-sample Kolmogorov-Smirnov test for equality of distribution functions: p-value 0.121"}]},
             "mark": {"type": "text", "fontSize": 7, "font": "Liberation Sans", "color": "#222", "align": "center", "baseline": "middle", "clip": false},
             "encoding": {"x": {"datum": 13.2, "type": "quantitative", "scale": {"domain": [-0.59, 30.49], "nice": false, "zero": false}, "axis": {"values": [0, 10, 20, 30], "title": "CES-D", "zindex": 1}},
                          "y": {"datum": -0.432, "type": "quantitative", "scale": {"domain": [-0.042, 1.042], "nice": false, "zero": false}, "axis": {"values": [0, 0.2, 0.4, 0.6, 0.8, 1], "title": null, "zindex": 1, "labelExpr": "datum.value == 0 ? '0' : datum.value == 1 ? '1' : replace(format(datum.value, '.1f'), '0.', '.')"}},
                          "text": {"field": "note"}}}
          ]
        },
        {
          "width": 316, "height": 156,
          "title": {"text": "CES-D cumulative distribution--Male sample", "subtitle": "At Endline"},
          "layer": [
            {"data": {"values": [{}]}, "mark": {"type": "rect", "color": "#EAF2F3", "clip": false},
             "encoding": {"x": {"datum": -4.3, "type": "quantitative", "scale": {"domain": [-0.59, 30.49], "nice": false, "zero": false}, "axis": {"values": [0, 10, 20, 30], "title": "CES-D", "zindex": 1}}, "x2": {"datum": 31.5},
                          "y": {"datum": 1.32, "type": "quantitative", "scale": {"domain": [-0.042, 1.042], "nice": false, "zero": false}, "axis": {"values": [0, 0.2, 0.4, 0.6, 0.8, 1], "title": null, "zindex": 1, "labelExpr": "datum.value == 0 ? '0' : datum.value == 1 ? '1' : replace(format(datum.value, '.1f'), '0.', '.')"}}, "y2": {"datum": -0.528}}},
            {"data": {"values": [{}]}, "mark": {"type": "rect", "color": "white"},
             "encoding": {"x": {"datum": -0.59, "type": "quantitative", "scale": {"domain": [-0.59, 30.49], "nice": false, "zero": false}, "axis": {"values": [0, 10, 20, 30], "title": "CES-D", "zindex": 1}}, "x2": {"datum": 30.49},
                          "y": {"datum": -0.042, "type": "quantitative", "scale": {"domain": [-0.042, 1.042], "nice": false, "zero": false}, "axis": {"values": [0, 0.2, 0.4, 0.6, 0.8, 1], "title": null, "zindex": 1, "labelExpr": "datum.value == 0 ? '0' : datum.value == 1 ? '1' : replace(format(datum.value, '.1f'), '0.', '.')"}}, "y2": {"datum": 1.042}}},
            {"data": {"name": "grid"}, "mark": {"type": "rule", "color": "#EAF2F3", "strokeWidth": 1},
             "encoding": {"y": {"field": "v", "type": "quantitative", "scale": {"domain": [-0.042, 1.042], "nice": false, "zero": false}, "axis": {"values": [0, 0.2, 0.4, 0.6, 0.8, 1], "title": null, "zindex": 1, "labelExpr": "datum.value == 0 ? '0' : datum.value == 1 ? '1' : replace(format(datum.value, '.1f'), '0.', '.')"}}}},
            {"data": {"values": [{}]}, "mark": {"type": "rule", "color": "#CC1F3A", "strokeWidth": 1.5},
             "encoding": {"x": {"datum": 10, "type": "quantitative", "scale": {"domain": [-0.59, 30.49], "nice": false, "zero": false}, "axis": {"values": [0, 10, 20, 30], "title": "CES-D", "zindex": 1}}}},
            {"data": {"name": "cdf"}, "transform": [{"filter": "datum.p == 'C2'"}],
             "mark": {"type": "line", "interpolate": "monotone", "strokeWidth": 1.3},
             "encoding": {
               "x": {"field": "x", "type": "quantitative", "scale": {"domain": [-0.59, 30.49], "nice": false, "zero": false}, "axis": {"values": [0, 10, 20, 30], "title": "CES-D", "zindex": 1}},
               "y": {"field": "y", "type": "quantitative", "scale": {"domain": [-0.042, 1.042], "nice": false, "zero": false}, "axis": {"values": [0, 0.2, 0.4, 0.6, 0.8, 1], "title": null, "zindex": 1, "labelExpr": "datum.value == 0 ? '0' : datum.value == 1 ? '1' : replace(format(datum.value, '.1f'), '0.', '.')"}},
               "color": {"field": "g", "type": "nominal", "scale": {"domain": ["Treatment", "Control"], "range": ["#29527D", "#A0404A"]}, "legend": {"title": null, "orient": "none", "legendX": 71, "legendY": 185.7, "direction": "horizontal"}},
               "strokeDash": {"field": "g", "type": "nominal", "scale": {"domain": ["Treatment", "Control"], "range": [[1, 0], [4.5, 2.5]]}, "legend": {"title": null, "orient": "none", "legendX": 71, "legendY": 185.7, "direction": "horizontal"}}
             }},
            {"data": {"values": [{"note": "Two-sample Kolmogorov-Smirnov test for equality of distribution functions: p-value 0.002"}]},
             "mark": {"type": "text", "fontSize": 7, "font": "Liberation Sans", "color": "#222", "align": "center", "baseline": "middle", "clip": false},
             "encoding": {"x": {"datum": 13.2, "type": "quantitative", "scale": {"domain": [-0.59, 30.49], "nice": false, "zero": false}, "axis": {"values": [0, 10, 20, 30], "title": "CES-D", "zindex": 1}},
                          "y": {"datum": -0.432, "type": "quantitative", "scale": {"domain": [-0.042, 1.042], "nice": false, "zero": false}, "axis": {"values": [0, 0.2, 0.4, 0.6, 0.8, 1], "title": null, "zindex": 1, "labelExpr": "datum.value == 0 ? '0' : datum.value == 1 ? '1' : replace(format(datum.value, '.1f'), '0.', '.')"}},
                          "text": {"field": "note"}}}
          ]
        }
      ]
    }
  ],
  "spacing": 26.7,
  "resolve": {"scale": {"color": "independent", "strokeDash": "independent"}, "legend": {"color": "independent", "strokeDash": "independent"}},
  "config": {
    "view": {"stroke": null},
    "font": "Liberation Sans",
    "axis": {"grid": false, "domainColor": "#444", "domainWidth": 1, "tickColor": "#444", "tickWidth": 1, "labelColor": "black", "labelFont": "Liberation Sans", "labelFontSize": 9.3, "titleFont": "Liberation Sans", "titleFontSize": 9.3, "titleFontWeight": "normal", "titleColor": "black", "labelFlush": false, "labelOverlap": false},
    "axisX": {"tickSize": 4, "labelPadding": 3.5, "titlePadding": 0},
    "axisY": {"tickSize": 3.3, "labelPadding": 1.7},
    "legend": {"symbolType": "M-3,0H3", "symbolSize": 121, "symbolStrokeWidth": 1.4, "symbolOffset": 10, "labelOffset": 16.5, "columnPadding": 10.5, "padding": 3, "strokeColor": "#8a8a8a", "fillColor": "white", "labelFontSize": 9.3, "labelFont": "Liberation Sans", "labelColor": "black"},
    "title": {"font": "Liberation Sans", "fontSize": 12.7, "fontWeight": "normal", "color": "#1f2d5c", "subtitleFont": "Liberation Sans", "subtitleFontSize": 10.2, "subtitleFontWeight": "normal", "subtitleColor": "black", "subtitlePadding": 2.8, "offset": -38.5, "frame": "group", "anchor": "middle"}
  }
}
